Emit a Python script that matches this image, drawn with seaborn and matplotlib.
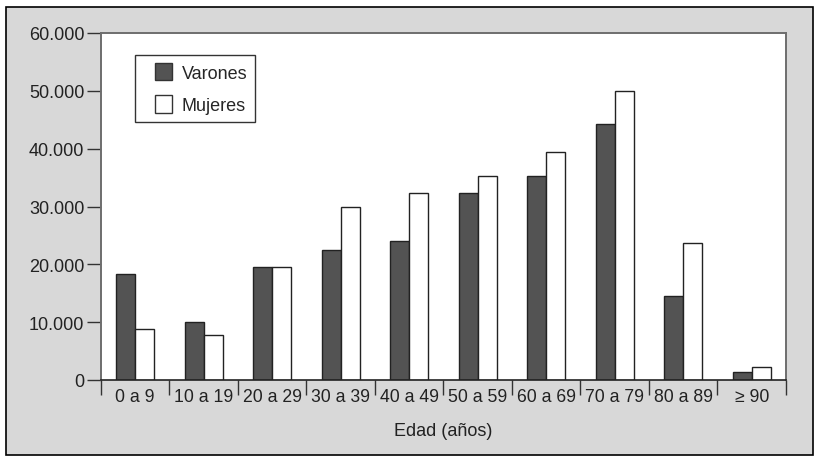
"""Población por grupos de edad y sexo: barras agrupadas."""

import matplotlib.pyplot as plt
import pandas as pd
import seaborn as sns
from matplotlib.legend_handler import HandlerPatch
from matplotlib.patches import Patch, Rectangle
from matplotlib.ticker import FuncFormatter

grupos = ["0 a 9", "10 a 19", "20 a 29", "30 a 39", "40 a 49",
          "50 a 59", "60 a 69", "70 a 79", "80 a 89", "\u2265 90"]
varones = [18400, 10100, 19600, 22400, 24000, 32300, 35200, 44300, 14500, 1400]
mujeres = [8900, 7700, 19600, 29900, 32300, 35200, 39500, 49900, 23700, 2200]
sexos = ["Varones", "Mujeres"]
colores = {"Varones": "#535353", "Mujeres": "#ffffff"}

df = pd.DataFrame({
    "grupo": grupos * 2,
    "valor": varones + mujeres,
    "sexo": [sexos[0]] * len(grupos) + [sexos[1]] * len(grupos),
})


class SquareRight(HandlerPatch):
    """Square legend swatch pushed to the right end of the handle box."""

    def create_artists(self, legend, orig_handle, xdescent, ydescent,
                       width, height, fontsize, trans):
        p = Rectangle((-xdescent + width - height, -ydescent), height, height)
        self.update_prop(p, orig_handle, legend)
        p.set_transform(trans)
        return [p]


sns.set_style("white")
plt.rcParams["font.family"] = ["Liberation Sans", "DejaVu Sans"]

fig = plt.figure(figsize=(8.2, 4.64), dpi=100)
fig.patch.set_facecolor("white")
fig.patches.append(Rectangle(
    (6 / 820, 1 - 456 / 464), 807 / 820, 448 / 464,
    transform=fig.transFigure, facecolor="#d8d8d8", edgecolor="black",
    linewidth=1.2, zorder=-10,
))

ax = fig.add_axes([101 / 820, 1 - 381 / 464, 685 / 820, 347 / 464])
ax.set_facecolor("white")

sns.barplot(
    data=df, x="grupo", y="valor", hue="sexo", order=grupos,
    hue_order=sexos, palette=colores, width=0.56, dodge=True,
    edgecolor="#222222", linewidth=1.0, saturation=1, legend=False, ax=ax,
)

ax.set_xlim(-0.5, len(grupos) - 0.5)
ax.set_ylim(0, 60000)
ax.set_yticks(range(0, 60001, 10000))
ax.yaxis.set_major_formatter(
    FuncFormatter(lambda v, _: f"{int(v):,}".replace(",", "."))
)

# category boundaries carry the tick marks, labels sit in between
ax.set_xticks([i - 0.5 for i in range(len(grupos) + 1)])
ax.set_xticklabels([])
ax.set_xticks(range(len(grupos)), minor=True)
ax.set_xticklabels(grupos, minor=True)
ax.tick_params(axis="x", which="major", length=11, width=1, color="#333333",
               direction="out", bottom=True)
ax.tick_params(axis="x", which="minor", length=0, labelsize=12.7,
               pad=6, colors="#222222")
ax.tick_params(axis="y", length=10, width=1, color="#333333", direction="out",
               left=True, labelsize=13, pad=2, labelcolor="#222222")

for side in ["left", "top", "right"]:
    ax.spines[side].set_color("#6e6e6e")
    ax.spines[side].set_linewidth(1.4)
ax.spines["bottom"].set_color("#222222")
ax.spines["bottom"].set_linewidth(1.2)

ax.set_xlabel("Edad (años)", fontsize=13, color="#222222", labelpad=12)
ax.set_ylabel("")

handles = [Patch(facecolor=colores[s], edgecolor="#333333", label=s) for s in sexos]
leg = ax.legend(
    handles=handles, loc="upper left", bbox_to_anchor=(0.049, 0.937),
    handler_map={Patch: SquareRight()},
    fontsize=13, frameon=True, fancybox=False, handlelength=1.65,
    handleheight=1.1, handletextpad=0.5, borderpad=0.45, labelspacing=0.75,
    borderaxespad=0,
)
leg.get_frame().set_edgecolor("black")
leg.get_frame().set_linewidth(1.0)

plt.savefig("out.png", dpi=100)
plt.close()
